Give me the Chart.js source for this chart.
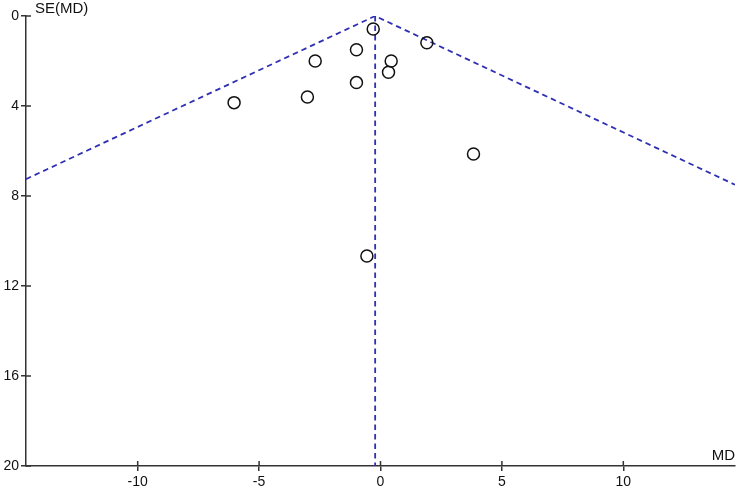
<!DOCTYPE html>
<html>
<head>
<meta charset="utf-8">
<script src="https://cdn.jsdelivr.net/npm/chart.js@4/dist/chart.umd.min.js"></script>
<style>
  body { margin: 0; background: #fff; }
</style>
</head>
<body>
<canvas id="funnelChart" width="737" height="490"></canvas>
<script>
// study estimates
const studyMD = [-0.30, 1.91, -0.99, -2.69, 0.44, 0.33, -0.99, -3.01, -6.03, 3.83, -0.56];
const studySE = [0.58, 1.19, 1.50, 2.00, 2.00, 2.50, 2.96, 3.60, 3.85, 6.13, 10.67];

// pseudo 95% limits (left end, apex, right end) and pooled estimate
const funnelMD = [-14.6, -0.22, 14.6];
const funnelSE = [7.25, 0, 7.5];
const pooledMD = [-0.22, -0.22];
const pooledSE = [0, 20];

const xTicks = [-10, -5, 0, 5, 10];
const yTicks = [0, 4, 8, 12, 16, 20];

const axisColor = '#333';
const dashColor = '#3030b4';
const fontFamily = "'Liberation Sans', Arial, sans-serif";

const toPoints = (xs, ys) => xs.map((x, i) => ({ x: x, y: ys[i] }));

// ticks in this style cross the axis, so add the inner half
const innerTicks = {
    id: 'innerTicks',
    afterDraw(chart) {
        const c = chart.ctx;
        const xs = chart.scales.x, ys = chart.scales.y;
        const area = chart.chartArea;
        c.save();
        c.strokeStyle = axisColor;
        c.lineWidth = 1.5;
        c.beginPath();
        xTicks.forEach(v => {
            const px = xs.getPixelForValue(v);
            c.moveTo(px, area.bottom);
            c.lineTo(px, area.bottom - 5);
        });
        yTicks.forEach(v => {
            const py = ys.getPixelForValue(v);
            c.moveTo(area.left, py);
            c.lineTo(area.left + 5, py);
        });
        c.stroke();

        // axis titles
        c.fillStyle = '#111';
        c.font = '15px ' + fontFamily;
        c.textBaseline = 'bottom';
        c.textAlign = 'left';
        c.fillText('SE(MD)', area.left + 9, area.top);
        c.textAlign = 'right';
        c.fillText('MD', area.right, area.bottom - 3);
        c.restore();
    }
};

new Chart(document.getElementById('funnelChart').getContext('2d'), {
    type: 'scatter',
    data: {
        datasets: [
            {
                label: 'Studies',
                data: toPoints(studyMD, studySE),
                pointStyle: 'circle',
                pointRadius: 6,
                pointHoverRadius: 6,
                borderColor: '#111',
                borderWidth: 1.5,
                backgroundColor: 'rgba(255,255,255,0)',
                order: 0
            },
            {
                label: 'Limits',
                data: toPoints(funnelMD, funnelSE),
                showLine: true,
                pointRadius: 0,
                borderColor: dashColor,
                borderWidth: 1.8,
                borderDash: [5.5, 4],
                fill: false,
                order: 1
            },
            {
                label: 'Pooled',
                data: toPoints(pooledMD, pooledSE),
                showLine: true,
                pointRadius: 0,
                borderColor: dashColor,
                borderWidth: 1.8,
                borderDash: [5.5, 4],
                fill: false,
                order: 1
            }
        ]
    },
    options: {
        responsive: false,
        animation: false,
        layout: {
            autoPadding: false,
            padding: { top: 16, right: 2, left: 0, bottom: 0 }
        },
        plugins: {
            legend: { display: false },
            tooltip: { enabled: false }
        },
        scales: {
            x: {
                type: 'linear',
                min: -14.6,
                max: 14.6,
                afterBuildTicks: s => { s.ticks = xTicks.map(v => ({ value: v })); },
                afterFit: s => {
                    s.height = 24;
                    s.paddingLeft = 0;
                    s.paddingRight = 0;
                },
                grid: {
                    drawOnChartArea: false,
                    tickLength: 5,
                    color: axisColor,
                    lineWidth: 1.5
                },
                border: { display: true, color: axisColor, width: 1.5 },
                ticks: {
                    color: '#111',
                    padding: 3,
                    maxRotation: 0,
                    font: { family: fontFamily, size: 14 }
                }
            },
            y: {
                type: 'linear',
                reverse: true,
                min: 0,
                max: 20,
                afterBuildTicks: s => { s.ticks = yTicks.map(v => ({ value: v })); },
                afterFit: s => {
                    s.width = 26;
                    s.paddingTop = 0;
                    s.paddingBottom = 0;
                },
                grid: {
                    drawOnChartArea: false,
                    tickLength: 5,
                    color: axisColor,
                    lineWidth: 1.5
                },
                border: { display: true, color: axisColor, width: 1.5 },
                ticks: {
                    color: '#111',
                    padding: 2,
                    font: { family: fontFamily, size: 14 }
                }
            }
        }
    },
    plugins: [innerTicks]
});
</script>
</body>
</html>
